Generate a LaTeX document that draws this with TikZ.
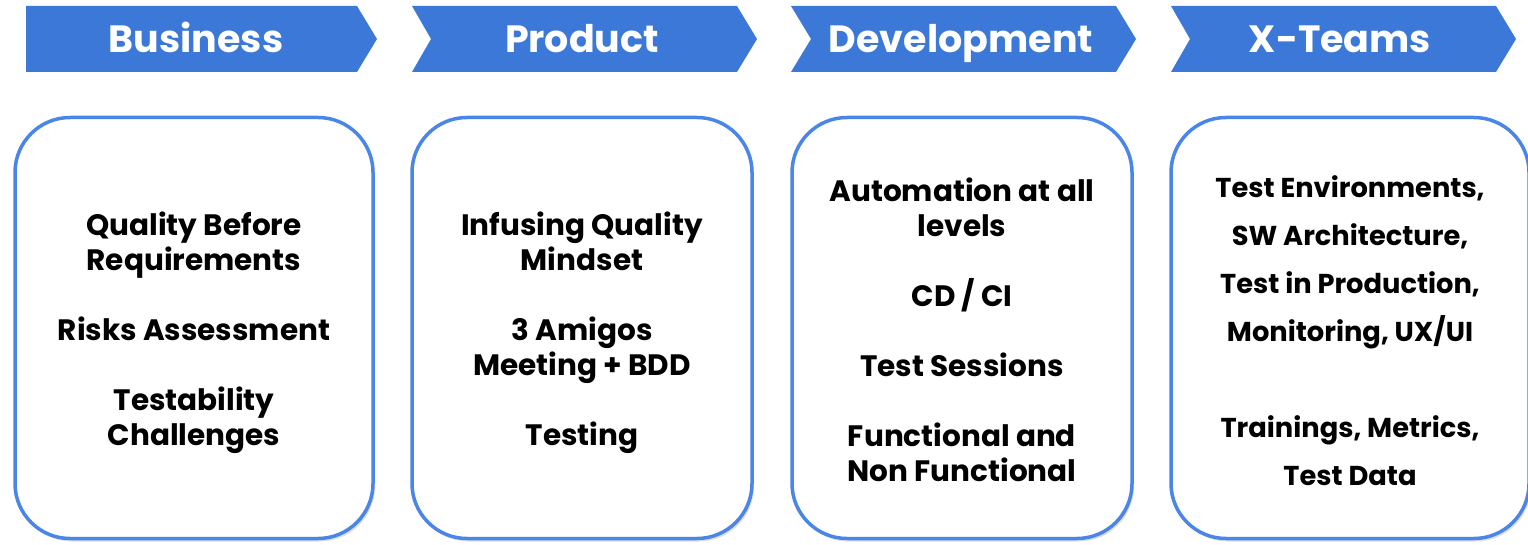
\documentclass[tikz,border=0pt]{standalone}
\usepackage{fontspec}
\setmainfont{Poppins}[BoldFont={* Bold}]
\usetikzlibrary{shadows}
\definecolor{chev}{HTML}{3C78D8}
\definecolor{boxblue}{HTML}{4A86E8}
\tikzset{
  chevron/.style={fill=chev, draw=none},
  chevtext/.style={text=white, font=\bfseries\fontsize{38}{40}\selectfont, inner sep=0pt, anchor=base},
  card/.style={draw=boxblue, line width=3.5pt, fill=white, rounded corners=55pt,
    minimum height=421pt, inner sep=0pt,
    drop shadow={opacity=0.25, shadow xshift=2pt, shadow yshift=-3pt}},
  cardtext/.style={align=center, inner sep=0pt, anchor=base,
    font=\bfseries\fontsize{29.5}{35}\selectfont},
  cardtextsmall/.style={cardtext, font=\bfseries\fontsize{27.3}{48}\selectfont}
}
\begin{document}
\begin{tikzpicture}[x=1pt,y=-1pt]
\useasboundingbox (0,0) rectangle (1528,545);
\clip (0,0) rectangle (1528,545);
% chevrons
\fill[chevron] (26,6) -- (357,6) -- (377,39) -- (357,72) -- (26,72) -- cycle;
\fill[chevron] (412,6) -- (737,6) -- (757,39) -- (737,72) -- (412,72) -- (431,39) -- cycle;
\fill[chevron] (791,6) -- (1116,6) -- (1136,39) -- (1116,72) -- (791,72) -- (811,39) -- cycle;
\fill[chevron] (1171,6) -- (1496,6) -- (1516,39) -- (1496,72) -- (1171,72) -- (1190,39) -- cycle;
\node[chevtext] (h1) at (196,53) {Business};
\node[chevtext] (h2) at (582,53) {Product};
\node[chevtext] (h3) at (961,53) {Development};
\node[chevtext] (h4) at (1340,53) {X-Teams};
% cards
\node[card, minimum width=358pt] (b1) at (194,328) {};
\node[card, minimum width=340pt] (b2) at (582,328) {};
\node[card, minimum width=340pt] (b3) at (962,328) {};
\node[card, minimum width=358pt] (b4) at (1350,328) {};
% text nodes: base anchor is the baseline of the last line
\node[cardtext] (t1) at (194,445) {Quality Before\\Requirements\\[35pt]Risks Assessment\\[35pt]Testability\\Challenges};
\node[cardtext] (t2) at (582,445) {Infusing Quality\\Mindset\\[35pt]3 Amigos\\Meeting + BDD\\[35pt]Testing};
\node[cardtext] (t3) at (962,481) {Automation at all\\levels\\[35pt]CD / CI\\[35pt]Test Sessions\\[35pt]Functional and\\Non Functional};
\node[cardtextsmall] (t4) at (1350,485) {Test Environments,\\SW Architecture,\\Test in Production,\\Monitoring, UX/UI\\[48pt]Trainings, Metrics,\\Test Data};
\end{tikzpicture}
\end{document}
